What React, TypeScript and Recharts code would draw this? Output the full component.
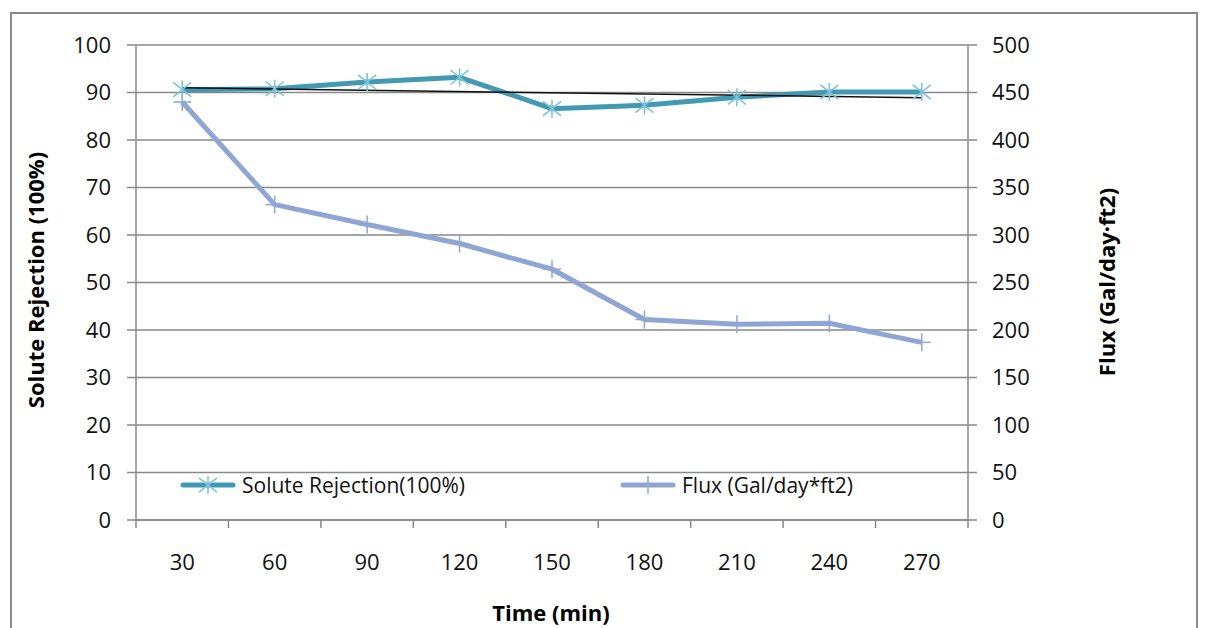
import React from 'react';
import { LineChart, Line, XAxis, YAxis, CartesianGrid } from 'recharts';

const times = [30, 60, 90, 120, 150, 180, 210, 240, 270];
const rejection = [90.6, 90.8, 92.2, 93.2, 86.6, 87.3, 89.0, 90.1, 90.1];
const flux = [440, 332, 311, 291, 264, 211, 206, 207, 187];
// linear trend of rejection, read at its two ends
const rejectionTrend = [91.0, null, null, null, null, null, null, null, 88.9];

const leftTicks = [0, 10, 20, 30, 40, 50, 60, 70, 80, 90, 100];
const rightTicks = [0, 50, 100, 150, 200, 250, 300, 350, 400, 450, 500];

const data = times.map((t, i) => ({
  time: t,
  rejection: rejection[i],
  flux: flux[i],
  trend: rejectionTrend[i],
}));

const FONT = '"Open Sans", "Liberation Sans", sans-serif';
const AXIS = '#898989';
const TEAL = '#4398b2';
const TEAL_LIGHT = '#7dc3d9';
const LAVENDER = '#8fa5d3';
const TEXT = '#111';

const X_TICK_SIZE = 8;
const X_TICK_MARGIN = 26;

const StarDot = (props: any) => {
  const { cx, cy } = props;
  if (cx == null || cy == null) return null;
  const r = 9;
  return (
    <g stroke={TEAL_LIGHT} strokeWidth={1.6}>
      <line x1={cx - r} y1={cy - r * 0.8} x2={cx + r} y2={cy + r * 0.8} />
      <line x1={cx - r} y1={cy + r * 0.8} x2={cx + r} y2={cy - r * 0.8} />
      <line x1={cx} y1={cy - r} x2={cx} y2={cy + r} />
    </g>
  );
};

const PlusDot = (props: any) => {
  const { cx, cy } = props;
  if (cx == null || cy == null) return null;
  const r = 9;
  return (
    <g stroke={LAVENDER} strokeWidth={1.5}>
      <line x1={cx - r} y1={cy} x2={cx + r} y2={cy} />
      <line x1={cx} y1={cy - r} x2={cx} y2={cy + r} />
    </g>
  );
};

// category ticks sit between the categories, Excel style
const TimeTick = (props: any) => {
  const { x, y, payload, index } = props;
  const half = payload?.offset ?? 0;
  const top = y - X_TICK_SIZE - X_TICK_MARGIN;
  const bottom = y - X_TICK_MARGIN;
  return (
    <g>
      <line x1={x - half} y1={top} x2={x - half} y2={bottom} stroke={AXIS} strokeWidth={1.5} />
      {index === times.length - 1 && (
        <line x1={x + half} y1={top} x2={x + half} y2={bottom} stroke={AXIS} strokeWidth={1.5} />
      )}
      <text x={x} y={y} dy="0.71em" textAnchor="middle" fill={TEXT} fontSize={22} fontFamily={FONT}>
        {payload.value}
      </text>
    </g>
  );
};

const LegendBox = () => (
  <div style={{ display: 'flex', fontFamily: FONT, fontSize: 21, color: TEXT }}>
    <div style={{ width: 440, display: 'flex', alignItems: 'center' }}>
      <svg width={56} height={24}>
        <line x1={3} y1={12} x2={53} y2={12} stroke={TEAL} strokeWidth={5} strokeLinecap="round" />
        <StarDot cx={28} cy={12} />
      </svg>
      <span style={{ marginLeft: 6 }}>Solute Rejection(100%)</span>
    </div>
    <div style={{ display: 'flex', alignItems: 'center' }}>
      <svg width={56} height={24}>
        <line x1={3} y1={12} x2={53} y2={12} stroke={LAVENDER} strokeWidth={5} strokeLinecap="round" />
        <PlusDot cx={28} cy={12} />
      </svg>
      <span style={{ marginLeft: 6 }}>Flux (Gal/day*ft2)</span>
    </div>
  </div>
);

const titleStyle: React.CSSProperties = {
  position: 'absolute',
  fontFamily: FONT,
  fontWeight: 700,
  fontSize: 22,
  color: '#000',
  whiteSpace: 'nowrap',
};

export default function App() {
  return (
    <div style={{ position: 'absolute', left: 0, top: 0, width: 1210, height: 628, overflow: 'hidden', background: '#fff' }}>
      <div
        style={{
          position: 'absolute',
          left: 10,
          top: 12,
          width: 1184,
          height: 620,
          border: '2px solid #8a8a8a',
          borderBottom: 'none',
        }}
      />
      <div style={{ position: 'absolute', left: 0, top: 0 }}>
        <LineChart width={1210} height={628} data={data} margin={{ top: 45, right: 172, bottom: 48, left: 66 }}>
          <CartesianGrid yAxisId="left" vertical={false} stroke={AXIS} strokeWidth={1.5} />
          <XAxis
            dataKey="time"
            scale="band"
            height={60}
            stroke={AXIS}
            strokeWidth={1.5}
            tickLine={false}
            tickSize={X_TICK_SIZE}
            tickMargin={X_TICK_MARGIN}
            tick={<TimeTick />}
            interval={0}
          />
          <YAxis
            yAxisId="left"
            domain={[0, 100]}
            ticks={leftTicks}
            width={70}
            stroke={AXIS}
            strokeWidth={1.5}
            tickSize={9}
            tickMargin={16}
            tick={{ fill: TEXT, fontSize: 22, fontFamily: FONT }}
            interval={0}
          />
          <YAxis
            yAxisId="right"
            orientation="right"
            domain={[0, 500]}
            ticks={rightTicks}
            width={70}
            stroke={AXIS}
            strokeWidth={1.5}
            tickSize={9}
            tickMargin={15}
            tick={{ fill: TEXT, fontSize: 22, fontFamily: FONT, textAnchor: 'start' }}
            interval={0}
          />
          <Line
            yAxisId="right"
            dataKey="flux"
            stroke={LAVENDER}
            strokeWidth={5}
            dot={<PlusDot />}
            activeDot={false}
            isAnimationActive={false}
          />
          <Line
            yAxisId="left"
            dataKey="rejection"
            stroke={TEAL}
            strokeWidth={5}
            dot={<StarDot />}
            activeDot={false}
            isAnimationActive={false}
          />
          <Line
            yAxisId="left"
            dataKey="trend"
            stroke="#111"
            strokeWidth={1.5}
            dot={false}
            activeDot={false}
            connectNulls
            isAnimationActive={false}
          />
        </LineChart>
      </div>
      <div style={{ position: 'absolute', left: 180, top: 471 }}>
        <LegendBox />
      </div>
      <div style={{ ...titleStyle, left: 35, top: 280, transform: 'translate(-50%, -50%) rotate(-90deg)' }}>
        Solute Rejection (100%)
      </div>
      <div style={{ ...titleStyle, left: 1106, top: 282, transform: 'translate(-50%, -50%) rotate(-90deg)' }}>
        Flux (Gal/day·ft2)
      </div>
      <div style={{ ...titleStyle, left: 551, top: 612, transform: 'translate(-50%, -50%)' }}>Time (min)</div>
    </div>
  );
}
